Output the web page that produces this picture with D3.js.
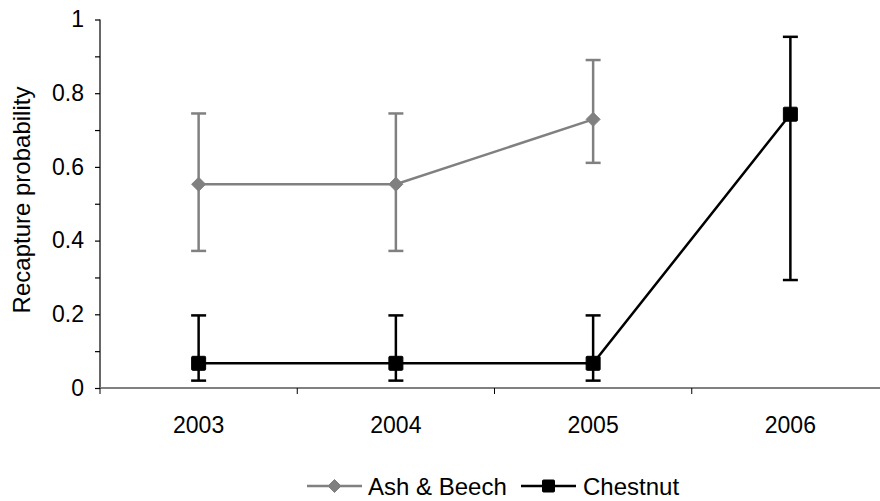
<!DOCTYPE html>
<html>
<head>
<meta charset="utf-8">
<script src="https://cdn.jsdelivr.net/npm/d3@7"></script>
<style>
  html, body { margin: 0; padding: 0; background: #fff; }
  svg { display: block; }
  text { font-family: "Liberation Sans", Arial, sans-serif; fill: #000; }
</style>
</head>
<body>
<svg id="chart" width="880" height="501"></svg>
<script>
// Survey years along the x axis
const years = ["2003", "2004", "2005", "2006"];

// Ash & Beech: estimates with lower / upper confidence limits
const ashYears = ["2003", "2004", "2005"];
const ashValues = [0.553, 0.553, 0.729];
const ashLower = [0.372, 0.372, 0.611];
const ashUpper = [0.745, 0.745, 0.890];

// Chestnut: estimates with lower / upper confidence limits
const chestYears = ["2003", "2004", "2005", "2006"];
const chestValues = [0.067, 0.067, 0.067, 0.743];
const chestLower = [0.020, 0.020, 0.020, 0.293];
const chestUpper = [0.197, 0.197, 0.197, 0.953];

// Y axis ticks
const yMajorTicks = [0, 0.2, 0.4, 0.6, 0.8, 1];
const yMinorTicks = [0.1, 0.3, 0.5, 0.7, 0.9];

const seriesNames = ["Ash & Beech", "Chestnut"];
const grey = "#808080";

const svg = d3.select("#chart");
const margin = { left: 100, top: 19.5, right: -9, bottom: 113 };
const W = 880, H = 501;

const x = d3.scaleBand()
  .domain(years)
  .range([margin.left, W - margin.right])
  .padding(0);

const y = d3.scaleLinear()
  .domain([0, 1])
  .range([H - margin.bottom, margin.top]);

const tickFont = 23;
const titleFont = 24;
const legendFont = 24;

// Y axis: line, major ticks with labels, minor ticks
const yAxis = d3.axisLeft(y)
  .tickValues(yMajorTicks)
  .tickSize(5)
  .tickPadding(11)
  .tickFormat(d => d3.format("")(d));

const gy = svg.append("g")
  .attr("transform", `translate(${margin.left},0)`)
  .call(yAxis);
gy.select(".domain").attr("stroke", "#000").attr("stroke-width", 1.2).attr("d", `M0,${y(1)}V${y(0)}`);
gy.selectAll(".tick line").attr("stroke", "#000").attr("stroke-width", 1.2);
gy.selectAll(".tick text")
  .style("font-size", tickFont + "px")
  .style("font-family", "Liberation Sans, Arial, sans-serif")
  .attr("fill", "#000");

const gyMinor = svg.append("g")
  .attr("transform", `translate(${margin.left},0)`)
  .call(d3.axisLeft(y).tickValues(yMinorTicks).tickSize(5).tickFormat(""));
gyMinor.select(".domain").remove();
gyMinor.selectAll(".tick line").attr("stroke", "#000").attr("stroke-width", 1.2);

// X axis: grey baseline with ticks at category boundaries
const gx = svg.append("g").attr("transform", `translate(0,${y(0)})`);
gx.append("line")
  .attr("x1", margin.left).attr("x2", W - margin.right)
  .attr("y1", 0).attr("y2", 0)
  .attr("stroke", grey).attr("stroke-width", 2);
const boundaries = years.map(d => x(d)).concat([x(years[years.length - 1]) + x.bandwidth()]);
gx.selectAll("line.tick")
  .data(boundaries)
  .join("line")
  .attr("class", "tick")
  .attr("x1", d => d).attr("x2", d => d)
  .attr("y1", 0).attr("y2", 6)
  .attr("stroke", "#000").attr("stroke-width", 1);
gx.selectAll("text")
  .data(years)
  .join("text")
  .attr("x", d => x(d) + x.bandwidth() / 2)
  .attr("y", 45)
  .attr("text-anchor", "middle")
  .style("font-size", tickFont + "px")
  .text(d => d);

// Y axis title
svg.append("text")
  .attr("transform", `translate(30,200) rotate(-90)`)
  .attr("text-anchor", "middle")
  .style("font-size", titleFont + "px")
  .text("Recapture probability");

const cx = d => x(d) + x.bandwidth() / 2;
const capHalf = 7.5;

function drawSeries(cls, cats, vals, lo, hi, color, marker) {
  const g = svg.append("g").attr("class", cls);
  const rows = cats.map((c, i) => ({ c, v: vals[i], lo: lo[i], hi: hi[i] }));

  // error bars
  const eb = g.selectAll("g.err").data(rows).join("g").attr("class", "err");
  eb.append("line")
    .attr("x1", d => cx(d.c)).attr("x2", d => cx(d.c))
    .attr("y1", d => y(d.lo)).attr("y2", d => y(d.hi))
    .attr("stroke", color).attr("stroke-width", 2.5);
  ["lo", "hi"].forEach(k => {
    eb.append("line")
      .attr("x1", d => cx(d.c) - capHalf).attr("x2", d => cx(d.c) + capHalf)
      .attr("y1", d => y(d[k])).attr("y2", d => y(d[k]))
      .attr("stroke", color).attr("stroke-width", 2.5);
  });

  // connecting line
  g.append("path")
    .datum(rows)
    .attr("fill", "none")
    .attr("stroke", color)
    .attr("stroke-width", 2.5)
    .attr("d", d3.line().x(d => cx(d.c)).y(d => y(d.v)));

  // markers
  g.selectAll("path.marker").data(rows).join("path")
    .attr("class", "marker")
    .attr("transform", d => `translate(${cx(d.c)},${y(d.v)})`)
    .attr("d", marker)
    .attr("fill", color)
    .attr("stroke", color)
    .attr("stroke-width", 1)
    .attr("stroke-linejoin", "round");
}

// Marker outlines (path strings centred on the data point)
const diamondPath = r => `M0,${-r}L${r},0L0,${r}L${-r},0Z`;
const squarePath = (h, c) => `M${-h},${-h + c}Q${-h},${-h} ${-h + c},${-h}H${h - c}Q${h},${-h} ${h},${-h + c}V${h - c}Q${h},${h} ${h - c},${h}H${-h + c}Q${-h},${h} ${-h},${h - c}Z`;

const diamond = diamondPath(7);
const square = squarePath(7, 1);
const legendDiamond = diamondPath(6.5);
const legendSquare = squarePath(6, 1);

drawSeries("ash", ashYears, ashValues, ashLower, ashUpper, grey, diamond);
drawSeries("chestnut", chestYears, chestValues, chestLower, chestUpper, "#000", square);

// Legend
const legendY = 486;
const legendItems = [
  { name: seriesNames[0], color: grey, marker: legendDiamond, x0: 307, tx: 368 },
  { name: seriesNames[1], color: "#000", marker: legendSquare, x0: 521, tx: 583 }
];
const lg = svg.append("g").attr("class", "legend");
legendItems.forEach(it => {
  lg.append("line")
    .attr("x1", it.x0).attr("x2", it.x0 + 55)
    .attr("y1", legendY).attr("y2", legendY)
    .attr("stroke", it.color).attr("stroke-width", 2.5);
  lg.append("path")
    .attr("transform", `translate(${it.x0 + 27.5},${legendY})`)
    .attr("d", it.marker)
    .attr("fill", it.color)
    .attr("stroke", it.color)
    .attr("stroke-width", 1)
    .attr("stroke-linejoin", "round");
  lg.append("text")
    .attr("x", it.tx)
    .attr("y", 495)
    .style("font-size", legendFont + "px")
    .text(it.name);
});
</script>
</body>
</html>
